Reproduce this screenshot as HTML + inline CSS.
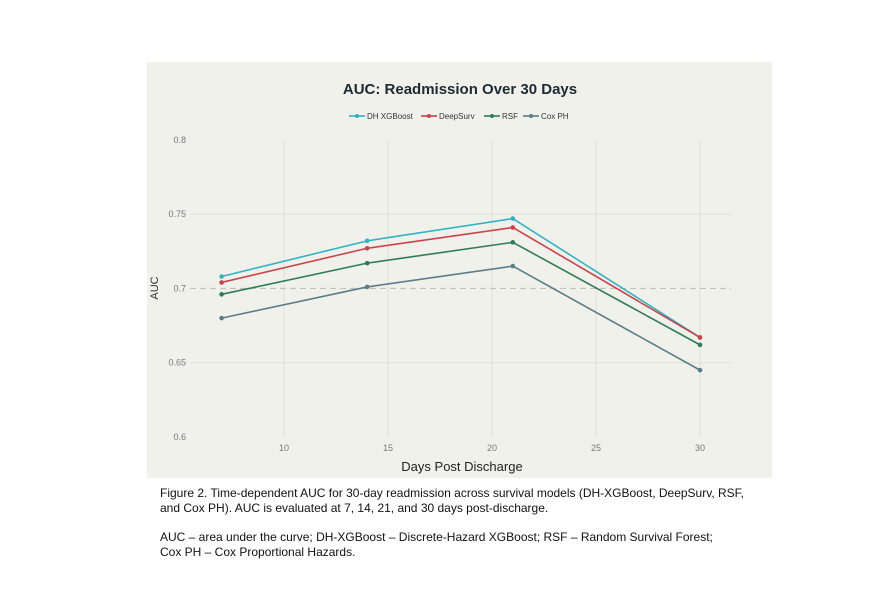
<!DOCTYPE html>
<html><head><meta charset="utf-8"><style>
body{margin:0;width:888px;height:589px;background:#fff;font-family:"Liberation Sans",sans-serif;position:relative;overflow:hidden}
.cap{position:absolute;left:160px;font-size:12px;color:#111;line-height:15px}
</style></head><body>
<svg width="888" height="589" style="position:absolute;left:0;top:0" id="svg">
<rect x="147" y="62" width="625" height="416" fill="#f1f1ec"/>
<text x="460" y="94" text-anchor="middle" font-size="15" font-weight="bold" fill="#1d2a33">AUC: Readmission Over 30 Days</text>
<text x="462" y="471" text-anchor="middle" font-size="13" fill="#222">Days Post Discharge</text>
<text x="158" y="288" text-anchor="middle" font-size="11" fill="#333" transform="rotate(-90 158 288)">AUC</text>
<g id="grid"></g><g id="series"></g><g id="legend"></g>
</svg>
<div class="cap" style="top:486px">Figure 2. Time-dependent AUC for 30-day readmission across survival models (DH-XGBoost, DeepSurv, RSF,<br>and Cox PH). AUC is evaluated at 7, 14, 21, and 30 days post-discharge.</div>
<div class="cap" style="top:530px">AUC – area under the curve; DH-XGBoost – Discrete-Hazard XGBoost; RSF – Random Survival Forest;<br>Cox PH – Cox Proportional Hazards.</div>
<script>
const days=[7,14,21,30];
const names=["DH XGBoost","DeepSurv","RSF","Cox PH"];
const dhXGBoost=[0.708,0.732,0.747,0.667];
const deepSurv=[0.704,0.727,0.741,0.667];
const rsf=[0.696,0.717,0.731,0.662];
const coxPH=[0.680,0.701,0.715,0.645];
const xTicks=[10,15,20,25,30];
const yTicks=[0.6,0.65,0.7,0.75,0.8];
const yTickLabels=["0.6","0.65","0.7","0.75","0.8"];
const allSeries=[dhXGBoost,deepSurv,rsf,coxPH];
const colors=["#2fb3c3","#c9434a","#2e7d52","#5a7d86"];
const X=d=>284+(d-10)*20.8;
const Y=v=>437-(v-0.6)*1486;
const NS="http://www.w3.org/2000/svg";
function mk(t,a,p){const e=document.createElementNS(NS,t);for(const k in a)e.setAttribute(k,a[k]);p.appendChild(e);return e;}
const grid=document.getElementById('grid');
xTicks.forEach(t=>{
  const l=mk('line',{x1:X(t),x2:X(t),y1:140,y2:437,stroke:'#e0e0da','stroke-width':1},grid);
  
  
  const tx=mk('text',{x:X(t),y:451,'text-anchor':'middle','font-size':9,fill:'#777'},grid);
  tx.textContent=t;
  
  
});
yTicks.forEach((t,i)=>{
  if(i>0&&i<yTicks.length-1){
    const l=mk('line',{x1:190,x2:731,y1:Y(t),y2:Y(t),stroke:t===0.7?'#bbbbb5':'#e0e0da','stroke-width':1,'stroke-dasharray':t===0.7?'6,4':'none'},grid);
    
    
  }
  const tx=mk('text',{x:186,y:Y(t)+3,'text-anchor':'end','font-size':9,fill:'#777'},grid);
  tx.textContent=yTickLabels[i];
  
  
});
const sg=document.getElementById('series');
allSeries.forEach((s,k)=>{
  const pl=mk('polyline',{points:s.map((v,i)=>X(days[i])+','+Y(v)).join(' '),fill:'none',stroke:colors[k],'stroke-width':1.6},sg);
  
  
  s.forEach((v,i)=>{
    const c=mk('circle',{cx:X(days[i]),cy:Y(v),r:2.3,fill:colors[k]},sg);
    
    
  });
});
const lg=document.getElementById('legend');
const lx=[349,421,484,523];
names.forEach((n,k)=>{
  const g=mk('g',{},lg);
  
  
  mk('line',{x1:lx[k],x2:lx[k]+16,y1:116,y2:116,stroke:colors[k],'stroke-width':1.6},g);
  mk('circle',{cx:lx[k]+8,cy:116,r:2,fill:colors[k]},g);
  const t=mk('text',{x:lx[k]+18,y:119,'font-size':8,fill:'#333'},g);
  t.textContent=n;
});
</script>
</body></html>
